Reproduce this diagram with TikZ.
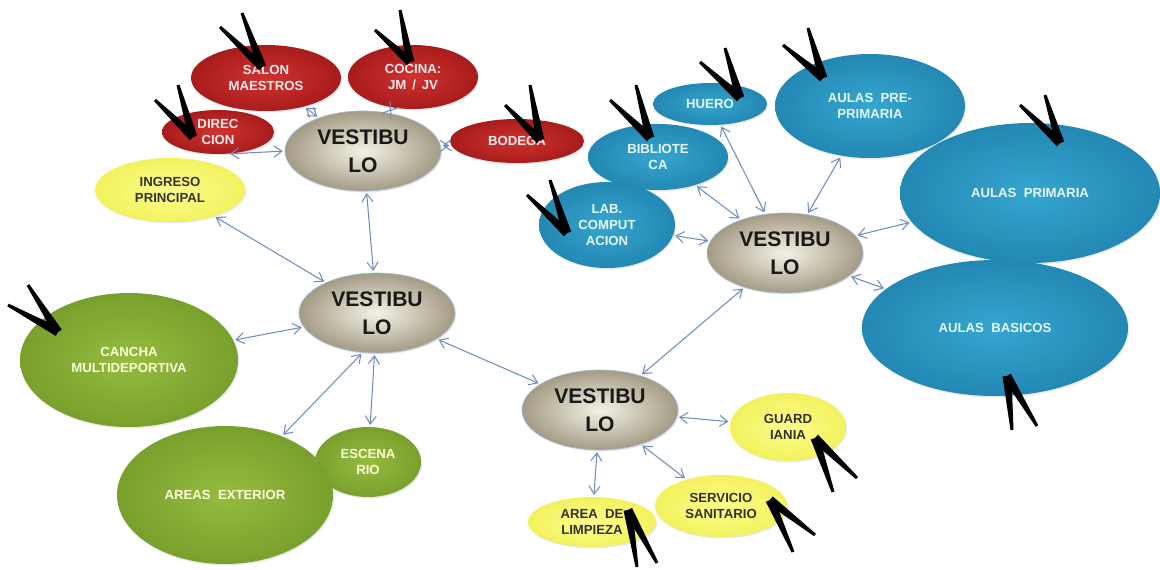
\documentclass[tikz,border=0pt]{standalone}
\usepackage{fontspec}
\setmainfont{Liberation Sans}
\usetikzlibrary{calc,shapes.geometric,shadows,arrows.meta}

\definecolor{redin}{HTML}{D0322F}
\definecolor{redout}{HTML}{A81C1C}
\definecolor{bluein}{HTML}{35A6CF}
\definecolor{blueout}{HTML}{2388B4}
\definecolor{greenin}{HTML}{95BC40}
\definecolor{greenout}{HTML}{78A02C}
\definecolor{yellowin}{HTML}{FCFC8C}
\definecolor{yellowout}{HTML}{F2F25E}
\definecolor{vestin}{HTML}{F4F2E6}
\definecolor{vestout}{HTML}{A49B84}
\definecolor{linkblue}{HTML}{6E8DBE}

% one tapered stroke of a check mark: free end, vertex
\newcommand{\varm}[2]{%
  \fill[black] ($(#1)!0.3mm!90:(#2)$) -- ($(#2)!0.9mm!-90:(#1)$) -- (#2)
    -- ($(#2)!0.9mm!90:(#1)$) -- ($(#1)!0.3mm!-90:(#2)$) -- cycle;}
% check mark: end, vertex, end
\newcommand{\vmark}[3]{\varm{#1}{#2}\varm{#3}{#2}}

\begin{document}
\begin{tikzpicture}[x=0.2mm,y=-0.2mm,
		radii/.style 2 args={minimum width=#1*0.4mm,minimum height=#2*0.4mm},
		room/.style={ellipse,inner sep=0pt,align=center,font=\bfseries\fontsize{7.5}{9}\selectfont,
			drop shadow={shadow xshift=0.6pt,shadow yshift=-0.8pt,opacity=0.18}},
		redroom/.style={room,inner color=redin,outer color=redout,text=red!8},
		blueroom/.style={room,inner color=bluein,outer color=blueout,text=cyan!10},
		greenroom/.style={room,inner color=greenin,outer color=greenout,text=yellow!15},
		yellowroom/.style={room,inner color=yellowin,outer color=yellowout,text=black!80},
		vest/.style={room,radii={78}{40},inner color=vestin,outer color=vestout,
			draw=linkblue!60,line width=0.4pt,text=black!90,font=\bfseries\fontsize{12}{16}\selectfont},
		link/.style={{Straight Barb[length=1.6mm,width=2.2mm]}-{Straight Barb[length=1.6mm,width=2.2mm]},
			draw=linkblue,line width=0.6pt,shorten <=1pt,shorten >=1pt}
		]
		\useasboundingbox (0,0) rectangle (1160,569);

		% top hall and the offices round it
		\node (salon) [redroom,radii={75}{33}] at (266,78) {SALON\\MAESTROS};
		\node (cocina) [redroom,radii={65}{32}] at (413,77) {COCINA:\\JM \,/\, JV};
		\node (direc) [redroom,radii={56}{22}] at (218,132) {DIREC\\CION};
		\node (bodega) [redroom,radii={67}{22}] at (517,141) {BODEGA};
		\node (vtop) [vest] at (363,151) {VESTIBU\\LO};

		% main hall, entrance and outdoor areas
		\node (ingreso) [yellowroom,radii={75}{32}] at (170,190) {INGRESO\\PRINCIPAL};
		\node (cancha) [greenroom,radii={109}{67}] at (129,360) {CANCHA\\MULTIDEPORTIVA};
		\node (escena) [greenroom,radii={53}{35}] at (368,462) {ESCENA\\RIO};
		\node (exterior) [greenroom,radii={108}{69}] at (225,495) {AREAS \ EXTERIOR};
		\node (vmid) [vest] at (377,313) {VESTIBU\\LO};

		% lower hall and services
		\node (guard) [yellowroom,radii={58}{34}] at (788,427) {GUARD\\IANIA};
		\node (limpieza) [yellowroom,radii={64}{25}] at (592,522) {AREA \ DE\\LIMPIEZA};
		\node (servicio) [yellowroom,radii={66}{31}] at (721,506) {SERVICIO\\SANITARIO};
		\node (vlow) [vest] at (600,410) {VESTIBU\\LO};

		% classroom wing
		\node (huero) [blueroom,radii={57}{21}] at (710,104) {HUERO};
		\node (biblio) [blueroom,radii={70}{33}] at (658,157) {BIBLIOTE\\CA};
		\node (lab) [blueroom,radii={68}{43}] at (607,225) {LAB.\\COMPUT\\ACION};
		\node (preprim) [blueroom,radii={95}{52}] at (870,106) {AULAS \ PRE-\\PRIMARIA};
		\node (primaria) [blueroom,radii={130}{70}] at (1030,193) {AULAS \ PRIMARIA};
		\node (basicos) [blueroom,radii={133}{68}] at (995,328) {AULAS \ BASICOS};
		\node (vright) [vest] at (785,253) {VESTIBU\\LO};

		% connections
		\draw[link] (vtop.west) -- (direc.-65);
		\draw[link] (vtop) -- (salon);
		\draw[link] (vtop) -- (cocina);
		\draw[link] (vtop) -- (bodega);
		\draw[link] (vtop) -- (vmid);
		\draw[link] (vmid) -- (ingreso);
		\draw[link] (vmid) -- (cancha);
		\draw[link] (vmid.250) -- (exterior);
		\draw[link] (vmid) -- (escena);
		\draw[link] (vmid) -- (vlow);
		\draw[link] (vlow) -- (vright);
		\draw[link] (vlow) -- (guard);
		\draw[link] (vlow.320) -- (servicio);
		\draw[link] (vlow) -- (limpieza);
		\draw[link] (vright) -- (lab);
		\draw[link] (vright) -- (biblio);
		\draw[link] (vright) -- (huero);
		\draw[link] (vright) -- (preprim);
		\draw[link] (vright) -- (primaria);
		\draw[link] (vright) -- (basicos);

		% check marks
		\vmark{220,27}{262,67}{242,13}
		\vmark{375,30}{410,62}{400,10}
		\vmark{155,100}{193,137}{178,85}
		\vmark{505,105}{540,140}{530,85}
		\vmark{700,62}{740,98}{725,48}
		\vmark{610,100}{650,138}{636,85}
		\vmark{527,195}{567,233}{550,180}
		\vmark{783,45}{823,78}{808,28}
		\vmark{1020,105}{1060,143}{1045,95}
		\vmark{8,305}{58,332}{28,285}
		\vmark{833,492}{815,438}{857,478}
		\vmark{793,552}{770,500}{815,535}
		\vmark{637,567}{628,510}{657,563}
		\vmark{1012,430}{1007,376}{1037,426}
\end{tikzpicture}
\end{document}
